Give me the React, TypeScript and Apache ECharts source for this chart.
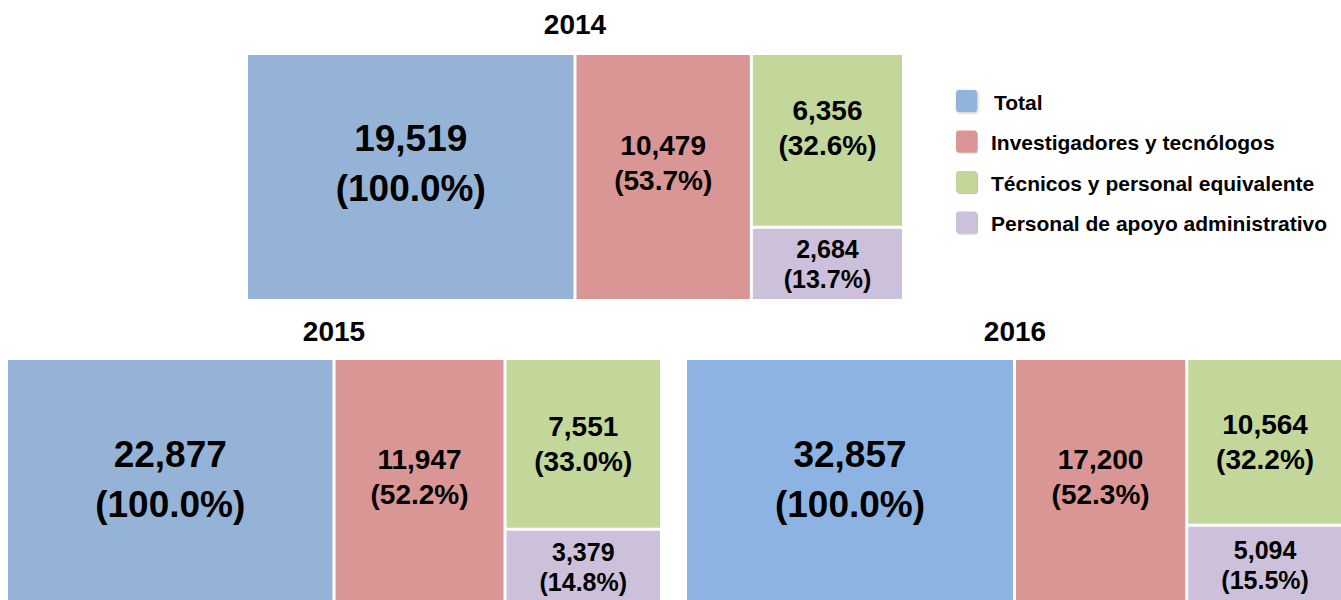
import React, { useEffect, useRef } from 'react';
import * as echarts from 'echarts';

// ---- data ----
const years = ['2014', '2015', '2016'];
const categories = [
  'Total',
  'Investigadores y tecnólogos',
  'Técnicos y personal equivalente',
  'Personal de apoyo administrativo',
];
const values2014 = [19519, 10479, 6356, 2684];
const values2015 = [22877, 11947, 7551, 3379];
const values2016 = [32857, 17200, 10564, 5094];
const pct2014 = [100.0, 53.7, 32.6, 13.7];
const pct2015 = [100.0, 52.2, 33.0, 14.8];
const pct2016 = [100.0, 52.3, 32.2, 15.5];

// ---- styles / layout ----
const colors = ['#95B3D7', '#DA9694', '#C4D79B', '#CCC0DA'];
const total2016Color = '#8DB3E2';
const NUM_FONT = "'Liberation Sans', Arial, sans-serif";
const LEG_FONT = "'Liberation Sans', Arial, sans-serif";
const labelSizes = [37, 28, 28, 25];
const labelLineHeights = [50, 35, 35, 30];

const blocks = [
  {
    year: years[0], values: values2014, pct: pct2014,
    rect: { left: 248, top: 55, width: 654, height: 244 },
    titleX: 575, titleY: 24, labelDy: [-14, -14, -12, 0], totalColor: colors[0],
  },
  {
    year: years[1], values: values2015, pct: pct2015,
    rect: { left: 8, top: 360, width: 652, height: 244 },
    titleX: 334, titleY: 331, labelDy: [-3, -5, 0, 0], totalColor: colors[0],
  },
  {
    year: years[2], values: values2016, pct: pct2016,
    rect: { left: 687, top: 360, width: 655, height: 244 },
    titleX: 1015, titleY: 331, labelDy: [-3, -5, 0, 0], totalColor: total2016Color,
  },
];

const fmt = (v: number) => v.toLocaleString('en-US');

export default function App() {
  const ref = useRef<HTMLDivElement>(null);
  useEffect(() => {
    if (!ref.current) return;
    const chart = echarts.init(ref.current, undefined, { renderer: 'svg' });

    const series = blocks.map((b) => ({
      type: 'treemap',
      name: b.year,
      ...b.rect,
      squareRatio: 1,
      roam: false,
      nodeClick: false,
      silent: true,
      breadcrumb: { show: false },
      sort: 'desc',
      levels: [
        { itemStyle: { borderWidth: 0, gapWidth: 3, borderColor: '#ffffff' } },
        { itemStyle: { borderWidth: 0, gapWidth: 0 } },
      ],
      label: {
        show: true,
        position: 'inside',
        color: '#000',
        fontFamily: NUM_FONT,
        fontWeight: 'bold',
        overflow: 'none',
        lineOverflow: 'none',
        padding: 0,
        formatter: (p: any) => `${fmt(p.value)}\n(${p.data.pct.toFixed(1)}%)`,
      },
      data: categories.map((c, i) => ({
        name: c,
        value: b.values[i],
        pct: b.pct[i],
        itemStyle: { color: i === 0 ? b.totalColor : colors[i] },
        label: {
          fontSize: labelSizes[i],
          lineHeight: labelLineHeights[i],
          offset: [0, b.labelDy[i]],
        },
      })),
    }));

    const graphic: any[] = [];
    blocks.forEach((b) => {
      graphic.push({
        type: 'text',
        x: b.titleX,
        y: b.titleY,
        style: {
          text: b.year,
          fill: '#000',
          font: `bold 28px ${NUM_FONT}`,
          align: 'center',
          verticalAlign: 'middle',
        },
      });
    });
    categories.forEach((c, i) => {
      const cy = 101 + i * 40.5;
      graphic.push({
        type: 'rect',
        shape: { x: 956, y: cy - 11, width: 21, height: 22, r: 3 },
        style: {
          fill: i === 0 ? '#92B3DA' : colors[i],
          shadowBlur: i === 0 ? 3 : 0,
          shadowColor: 'rgba(0,0,0,0.25)',
          shadowOffsetX: 1,
          shadowOffsetY: 1,
        },
      });
      graphic.push({
        type: 'text',
        x: i === 0 ? 994 : 991,
        y: cy + 1,
        style: {
          text: c,
          fill: '#000',
          font: `bold 21px ${LEG_FONT}`,
          align: 'left',
          verticalAlign: 'middle',
        },
      });
    });

    chart.setOption({
      animation: false,
      backgroundColor: '#ffffff',
      series,
      graphic,
    } as any);

    return () => chart.dispose();
  }, []);

  return (
    <div
      ref={ref}
      style={{ position: 'absolute', left: 0, top: 0, width: 1341, height: 600 }}
    />
  );
}
